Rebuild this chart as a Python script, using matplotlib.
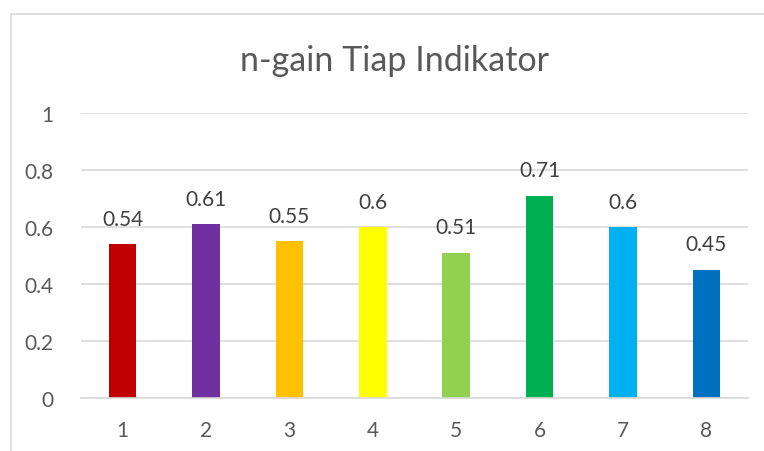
import matplotlib
matplotlib.use("Agg")
import matplotlib.pyplot as plt
from matplotlib.patches import Rectangle

categories = ["1", "2", "3", "4", "5", "6", "7", "8"]
values = [0.54, 0.61, 0.55, 0.6, 0.51, 0.71, 0.6, 0.45]
colors = ["#C00000", "#7030A0", "#FFC000", "#FFFF00", "#92D050", "#00B050", "#00B0F0", "#0070C0"]
yticks = [0, 0.2, 0.4, 0.6, 0.8, 1]
ytick_labels = ["0", "0.2", "0.4", "0.6", "0.8", "1"]
title = "n-gain Tiap Indikator"

plt.rcParams['font.family'] = ['Lato', 'DejaVu Sans']
txt = "#595959"

fig = plt.figure(figsize=(7.64, 4.52), dpi=100)
fig.patches.append(Rectangle((11/764, -0.1), 1.0, 1 - 15/452 + 0.1, transform=fig.transFigure,
                             fill=False, edgecolor="#D9D9D9", linewidth=1.2))
ax = fig.add_axes([81/764, 1 - 399/452, 667/764, 285/452])
x = range(len(categories))
ax.bar(x, values, width=0.33, color=colors, zorder=3)
for xi, v in zip(x, values):
    ax.annotate(f"{v:g}", (xi, v), xytext=(0, 11), textcoords="offset points",
                ha="center", va="bottom", fontsize=15, color="#404040")
ax.set_xlim(-0.5, len(categories) - 0.5)
ax.set_ylim(0, 1)
ax.set_yticks(yticks)
ax.set_yticklabels(ytick_labels)
ax.set_xticks(list(x))
ax.set_xticklabels(categories)
ax.tick_params(length=0, labelsize=15, colors=txt, pad=16)
ax.tick_params(axis="y", pad=20)
ax.grid(axis="y", color="#D9D9D9", linewidth=1.2, zorder=0)
for s in ["top", "right", "left"]:
    ax.spines[s].set_visible(False)
ax.spines["bottom"].set_color("#D9D9D9")
ax.spines["bottom"].set_linewidth(1.2)
ax.spines["bottom"].set_zorder(4)
fig.text(395/764, 1 - 61/452, title, ha="center", va="center",
         fontsize=24.5, color=txt)
fig.savefig("out.png", dpi=100)
